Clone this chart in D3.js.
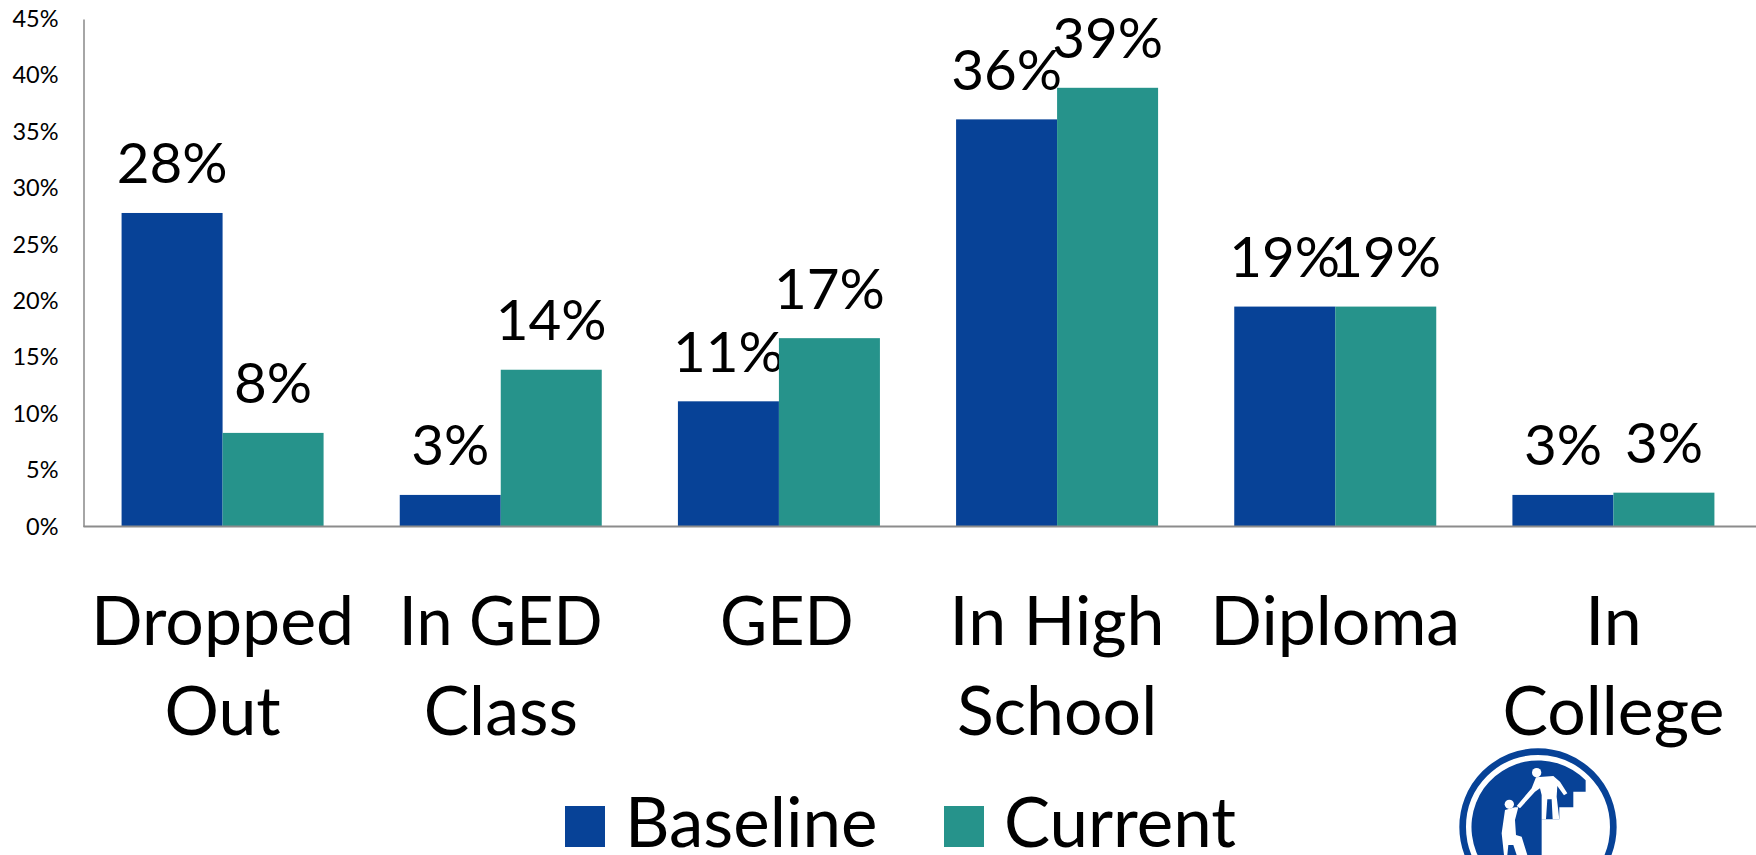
<!DOCTYPE html>
<meta charset="utf-8">
<style>
html, body {margin:0; padding:0; background:#fff; overflow:hidden;}
text {font-family: Lato, sans-serif; fill:#000;}
</style>
<body>
<svg id="chart" width="1756" height="855"></svg>
<script src="https://cdnjs.cloudflare.com/ajax/libs/d3/7.8.5/d3.min.js"></script>
<script>
var categories = ["Dropped Out", "In GED Class", "GED", "In High School", "Diploma", "In College"];
var categoryLines = [["Dropped", "Out"], ["In GED", "Class"], ["GED"], ["In High", "School"], ["Diploma"], ["In", "College"]];
var seriesNames = ["Baseline", "Current"];
var baseline = [27.8, 2.8, 11.1, 36.1, 19.5, 2.8];
var current = [8.3, 13.9, 16.7, 38.9, 19.5, 3.0];
var baselineLabels = ["28%", "3%", "11%", "36%", "19%", "3%"];
var currentLabels = ["8%", "14%", "17%", "39%", "19%", "3%"];
var yTicks = [0, 5, 10, 15, 20, 25, 30, 35, 40, 45];
var colors = ["#074297", "#26938b"];

var svg = d3.select("#chart");

// scales
var x = d3.scaleBand().domain(categories).range([83.5, 1752.5]);
var groupWidth = 202;
var xInner = d3.scaleBand().domain(seriesNames).range([0, groupWidth]);
var y = d3.scaleLinear().domain([0, 45]).range([526.5, 19]);

// y axis
var yAxis = svg.append("g")
  .attr("transform", "translate(83.5,0)")
  .call(d3.axisLeft(y).tickValues(yTicks).tickSize(0).tickPadding(25).tickFormat(function(d) { return d + "%"; }));
yAxis.select(".domain").attr("stroke", "#a6a6a6").attr("stroke-width", 2);
yAxis.selectAll("text")
  .style("font-family", "Lato, sans-serif")
  .attr("font-size", 23.5)
  .attr("fill", "#111");

// bars
var series = [baseline, current];
var labels = [baselineLabels, currentLabels];
series.forEach(function(values, s) {
  var offset = x.bandwidth() / 2 - groupWidth / 2 + xInner(seriesNames[s]);
  svg.append("g")
    .selectAll("rect")
    .data(values)
    .enter()
    .append("rect")
    .attr("x", function(d, i) { return x(categories[i]) + offset; })
    .attr("y", function(d) { return y(d); })
    .attr("width", xInner.bandwidth())
    .attr("height", function(d) { return y(0) - y(d); })
    .attr("fill", colors[s]);

  // data labels
  svg.append("g")
    .selectAll("text")
    .data(values)
    .enter()
    .append("text")
    .attr("x", function(d, i) { return x(categories[i]) + offset + xInner.bandwidth() / 2; })
    .attr("y", function(d) { return y(d) - 29.5; })
    .attr("text-anchor", "middle")
    .attr("font-size", 56.5)
    .text(function(d, i) { return labels[s][i]; });
});

// x axis line
svg.append("line")
  .attr("x1", 83.5).attr("x2", 1756)
  .attr("y1", y(0)).attr("y2", y(0))
  .attr("stroke", "#8c8c8c").attr("stroke-width", 2);

// category labels
categoryLines.forEach(function(lines, i) {
  var cx = x(categories[i]) + x.bandwidth() / 2;
  if (categories[i] == "GED") cx += 8; // the GED label sits a little right of its bars
  lines.forEach(function(line, j) {
    var t = svg.append("text")
      .attr("x", cx)
      .attr("y", 645 + j * 90)
      .attr("text-anchor", "middle")
      .attr("font-size", 68)
      .text(line);
    // Lato capitals run wider than the original face
    if (line.indexOf("GED") >= 0) {
      t.attr("textLength", t.node().getComputedTextLength() * 0.95).attr("lengthAdjust", "spacingAndGlyphs");
    }
  });
});

// legend
var legendX = [565, 944];
seriesNames.forEach(function(name, s) {
  svg.append("rect")
    .attr("x", legendX[s]).attr("y", 806)
    .attr("width", 40).attr("height", 41)
    .attr("fill", colors[s]);
  svg.append("text")
    .attr("x", legendX[s] + 60)
    .attr("y", 847)
    .attr("font-size", 69)
    .text(name);
});

// logo, cut off by the bottom of the picture (traced at 3x)
var logo = svg.append("g").attr("transform", "translate(1420,720) scale(0.3333)");
logo.append("circle").attr("cx", 354).attr("cy", 321).attr("r", 226).attr("fill", "none").attr("stroke", colors[0]).attr("stroke-width", 20);
logo.append("path")
  .attr("d", "M497,181 A200,200 0 1 0 365,521 L365,298 L418,298 L418,262 L460,262 L460,215 L497,215 Z")
  .attr("fill", colors[0]);
// the two figures
logo.append("circle").attr("cx", 350).attr("cy", 158).attr("r", 14).attr("fill", "#fff");
logo.append("path")
  .attr("d", "M348,172 L400,168 L420,185 L442,220 L432,226 L412,198 L410,230 L418,298 L398,298 L395,238 L382,238 L378,298 L365,298 L365,225 L360,205 L345,215 L300,265 L290,258 L335,205 Z")
  .attr("fill", "#fff");
logo.append("circle").attr("cx", 268).attr("cy", 253).attr("r", 14).attr("fill", "#fff");
logo.append("path")
  .attr("d", "M255,270 L285,262 L295,262 L285,300 L288,345 L305,350 L322,405 L290,405 L280,375 L265,375 L262,405 L252,405 L245,340 Z")
  .attr("fill", "#fff");
</script>
</body>
